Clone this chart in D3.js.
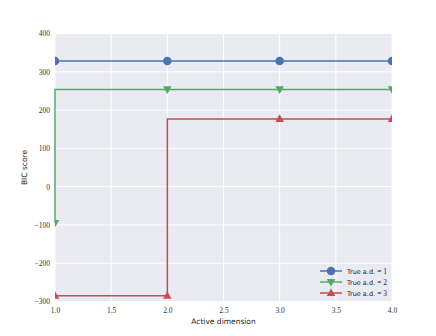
<!DOCTYPE html>
<html>
<head>
<meta charset="utf-8">
<script src="https://cdn.jsdelivr.net/npm/d3@7"></script>
<style>
    body { margin: 0; background: #fff; }
    svg { display: block; }
    .tick text { font-family: "Liberation Serif", "DejaVu Serif", serif; font-size: 7.5px; fill: #333; }
    .lbl { font-family: "DejaVu Sans", sans-serif; font-size: 7.5px; fill: #222; }
</style>
</head>
<body>
<div id="app"></div>
<script>
"use strict";

const dims = [1, 2, 3, 4];
const seriesNames = ["True a.d. = 1", "True a.d. = 2", "True a.d. = 3"];
const blueVals = [328, 328, 328, 328];
const greenVals = [-95, 254, 254, 254];
const redVals = [-285, -285, 177, 177];
const xTicks = [1.0, 1.5, 2.0, 2.5, 3.0, 3.5, 4.0];
const yTicks = [-300, -200, -100, 0, 100, 200, 300, 400];

const series = [
    { name: "1", vals: blueVals, color: "#4C72B0", marker: "circle" },
    { name: "2", vals: greenVals, color: "#55A868", marker: "down" },
    { name: "3", vals: redVals, color: "#C44E52", marker: "up" },
];

const W = 436, H = 336;
const margin = { left: 55, right: 44, top: 33.5, bottom: 34.5 };

const svg = d3.select("#app").append("svg").attr("width", W).attr("height", H);

const x = d3.scaleLinear().domain([1, 4]).range([margin.left, W - margin.right]);
const y = d3.scaleLinear().domain([-300, 400]).range([H - margin.bottom, margin.top]);

svg.append("rect")
    .attr("x", x(1)).attr("y", y(400))
    .attr("width", x(4) - x(1)).attr("height", y(-300) - y(400))
    .attr("fill", "#EAEAF2");

svg.append("clipPath").attr("id", "clip").append("rect")
    .attr("x", x(1)).attr("y", y(400))
    .attr("width", x(4) - x(1)).attr("height", y(-300) - y(400));
// lines get a little slack so the ones on the edge stay visible
svg.append("clipPath").attr("id", "clipLine").append("rect")
    .attr("x", x(1) - 1).attr("y", y(400) - 1)
    .attr("width", x(4) - x(1) + 2).attr("height", y(-300) - y(400) + 2);

// grid
svg.append("g").selectAll("line").data(xTicks).enter().append("line")
    .attr("x1", d => x(d)).attr("x2", d => x(d))
    .attr("y1", y(400)).attr("y2", y(-300))
    .attr("stroke", "#fff").attr("stroke-width", 1);
svg.append("g").selectAll("line").data(yTicks).enter().append("line")
    .attr("x1", x(1)).attr("x2", x(4))
    .attr("y1", d => y(d)).attr("y2", d => y(d))
    .attr("stroke", "#fff").attr("stroke-width", 1);

// axes (labels only)
const xAxis = svg.append("g").attr("transform", `translate(0,${y(-300)})`)
    .call(d3.axisBottom(x).tickValues(xTicks).tickFormat(d3.format(".1f")).tickSize(0).tickPadding(6));
const yAxis = svg.append("g").attr("transform", `translate(${x(1)},0)`)
    .call(d3.axisLeft(y).tickValues(yTicks).tickFormat(d => d < 0 ? "\u2212" + Math.abs(d) : d).tickSize(0).tickPadding(5));
xAxis.select(".domain").remove();
yAxis.select(".domain").remove();

function markerPath(type, s) {
    if (type == "circle") return d3.symbol(d3.symbolCircle, s * s * Math.PI / 4)();
    const h = s * 0.9;
    if (type == "up") return `M0,${-h * 0.6}L${s / 2},${h * 0.4}L${-s / 2},${h * 0.4}Z`;
    return `M0,${h * 0.6}L${s / 2},${-h * 0.4}L${-s / 2},${-h * 0.4}Z`;
}

const lines = svg.append("g").attr("clip-path", "url(#clipLine)");
const marks = svg.append("g").attr("clip-path", "url(#clip)");
const line = d3.line().x((d, i) => x(dims[i])).y(d => y(d)).curve(d3.curveStepBefore);

for (let s of series) {
    lines.append("path").datum(s.vals)
        .attr("d", line)
        .attr("fill", "none").attr("stroke", s.color).attr("stroke-width", 1.5);
    marks.selectAll(null).data(s.vals).enter().append("path")
        .attr("transform", (d, i) => `translate(${x(dims[i])},${y(d)})`)
        .attr("d", markerPath(s.marker, 8.5))
        .attr("fill", s.color);
}

// axis labels
svg.append("text").attr("class", "lbl")
    .attr("x", (x(1) + x(4)) / 2).attr("y", 324)
    .attr("text-anchor", "middle").text("Active dimension");
svg.append("text").attr("class", "lbl")
    .attr("transform", `translate(27,${(y(400) + y(-300)) / 2}) rotate(-90)`)
    .attr("text-anchor", "middle").text("BIC score");

// legend
const legend = svg.append("g").attr("transform", "translate(320,271)");
series.forEach((s, i) => {
    const g = legend.append("g").attr("transform", `translate(0,${i * 11})`);
    g.append("line").attr("x1", 0).attr("x2", 22).attr("stroke", s.color).attr("stroke-width", 1.5);
    g.append("path").attr("transform", "translate(11,0)").attr("d", markerPath(s.marker, 8.5)).attr("fill", s.color);
    const t = g.append("text").attr("class", "lbl").attr("x", 27).attr("y", 2.5).style("font-size", "6.5px");
    t.append("tspan").text("True a.d. ");
    t.append("tspan").style("font-family", "Liberation Serif, serif").style("font-size", "7.5px").text("= " + s.name);
});
</script>
</body>
</html>
